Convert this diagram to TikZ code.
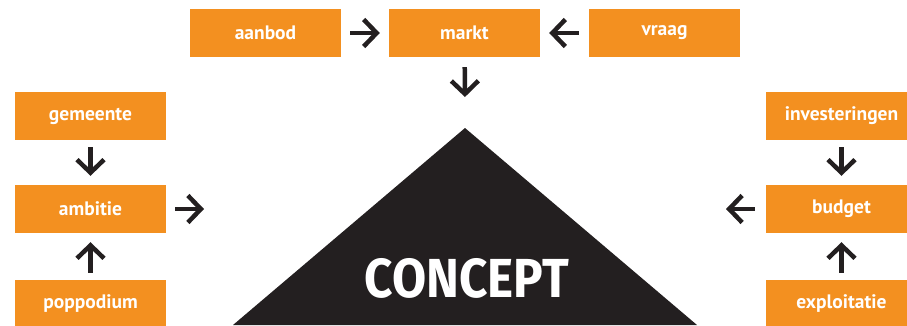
\documentclass[tikz,border=0pt]{standalone}
\usepackage{fontspec}
\setmainfont{PT Sans}
\newfontfamily\conceptfont{Fira Sans}
\usetikzlibrary{arrows.meta}

\definecolor{oranje}{HTML}{F39020}
\definecolor{donker}{HTML}{231F20}

\tikzset{
  box/.style={fill=oranje, text=white, minimum width=151pt, minimum height=48pt,
    inner sep=0pt, font=\fontsize{19.5}{19.5}\selectfont\bfseries},
  pijl/.style={draw=donker, line width=4.5pt,
    -{Straight Barb[length=13pt,width=27pt]}, shorten <=7pt, shorten >=9pt},
}

\begin{document}
\begin{tikzpicture}[x=1pt,y=-1pt]
    \useasboundingbox (0,0) rectangle (907,325);
    \clip (0,0) rectangle (907,325);
    % triangle
    \coordinate (top) at (465,128);
    \coordinate (bl) at (233,325);
    \coordinate (br) at (697,325);
    \fill[donker] (bl) -- (top) -- (br) -- cycle;
    \node[text=white, font=\conceptfont\fontsize{55}{55}\selectfont\bfseries, xscale=0.9] (concept) at (467,278) {CONCEPT};
    % boxes
    \node[box] (aanbod) at (265.5,33) {aanbod};
    \node[box] (markt) at (464.5,33) {markt};
    \node[box] (vraag) at (664.5,33) {vraag};
    \node[box] (gemeente) at (90.5,116) {gemeente};
    \node[box] (ambitie) at (90.5,209) {ambitie};
    \node[box] (poppodium) at (90.5,304) {poppodium};
    \node[box] (investeringen) at (841.5,116) {investeringen};
    \node[box] (budget) at (841.5,209) {budget};
    \node[box] (exploitatie) at (841.5,304) {exploitatie};
    % arrow ends at the triangle
    \coordinate (inT) at (465,106);
    \coordinate (inL) at (213,209);
    \coordinate (inR) at (717,209);
    % arrows
    \draw[pijl, shorten <=9pt] (aanbod) -- (markt);
    \draw[pijl, shorten <=10pt] (vraag) -- (markt);
    \draw[pijl, shorten <=10pt] (markt) -- (inT);
    \draw[pijl] (gemeente) -- (ambitie);
    \draw[pijl] (poppodium) -- (ambitie);
    \draw[pijl, shorten <=9pt] (ambitie) -- (inL);
    \draw[pijl] (investeringen) -- (budget);
    \draw[pijl] (exploitatie) -- (budget);
    \draw[pijl, shorten <=11pt] (budget) -- (inR);
\end{tikzpicture}
\end{document}
